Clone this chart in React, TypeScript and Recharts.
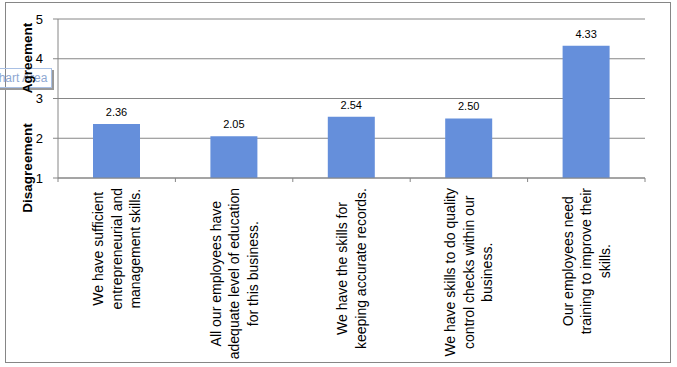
import { BarChart, Bar, XAxis, YAxis, CartesianGrid, LabelList } from "recharts";

// statements shown under each bar (line breaks as in the original)
const statements = [
  "We have sufficient\nentrepreneurial and\nmanagement skills.",
  "All our employees have\nadequate level of education\nfor this business.",
  "We have the skills for\nkeeping accurate records.",
  "We have skills to do quality\ncontrol checks within our\nbusiness.",
  "Our employees need\ntraining to improve their\nskills.",
];
const meanScores = [2.36, 2.05, 2.54, 2.5, 4.33];
const scaleTicks = [1, 2, 3, 4, 5];

const data = statements.map((s, i) => ({ statement: s, score: meanScores[i] }));

const GRID = "#868686";
const BAR = "#658fdb";
const LABEL_FONT = "14px 'Liberation Sans', Arial, sans-serif";
const LABEL_GAP = 10;

let ctx: CanvasRenderingContext2D | null = null;
function textWidth(t: string) {
  if (!ctx) ctx = document.createElement("canvas").getContext("2d");
  if (!ctx) return t.length * 7;
  ctx.font = LABEL_FONT;
  return ctx.measureText(t).width;
}

// label block + Excel-style tick marks between categories
function StatementTick({ x, y, payload, index }: any) {
  const lines = String(payload.value).split("\n");
  const longest = Math.max(...lines.map(textWidth));
  const lh = 18.5;
  const half = payload.offset ?? 0;
  const axisY = y - LABEL_GAP;
  return (
    <g>
      <line x1={x + half} x2={x + half} y1={axisY} y2={axisY + 4} stroke={GRID} />
      {index === 0 && <line x1={x - half} x2={x - half} y1={axisY} y2={axisY + 4} stroke={GRID} />}
      <g transform={`translate(${x},${y}) rotate(-90)`}>
        {lines.map((l, i) => (
          <text
            key={i}
            x={-longest / 2}
            y={(i - (lines.length - 1) / 2) * lh}
            textAnchor="middle"
            dominantBaseline="central"
            style={{ font: LABEL_FONT }}
            fill="#000"
          >
            {l}
          </text>
        ))}
      </g>
    </g>
  );
}

export default function App() {
  return (
    <div style={{ position: "relative", width: 677, height: 367, background: "#fff", overflow: "hidden" }}>
      <style>{"body{margin:0}"}</style>
      <div
        style={{
          position: "absolute",
          left: 5,
          top: 2,
          width: 666,
          height: 361,
          border: `1px solid ${GRID}`,
          boxSizing: "border-box",
        }}
      />
      <div style={{ position: "absolute", left: 0, top: 0 }}>
        <BarChart width={677} height={367} data={data} margin={{ top: 19, right: 32, bottom: 0, left: 28 }}>
          <CartesianGrid vertical={false} stroke={GRID} />
          <XAxis
            dataKey="statement"
            height={189}
            stroke={GRID}
            tickLine={false}
            tickSize={0}
            tickMargin={LABEL_GAP}
            interval={0}
            tick={<StatementTick />}
          />
          <YAxis
            domain={[1, 5]}
            ticks={scaleTicks}
            width={30}
            stroke={GRID}
            tickSize={5}
            tickMargin={10}
            tick={{ fill: "#000", fontSize: 13, fontFamily: "'Liberation Sans', Arial, sans-serif" }}
          />
          <Bar dataKey="score" fill={BAR} barSize={47} isAnimationActive={false}>
            <LabelList
              dataKey="score"
              position="top"
              offset={8}
              formatter={(v: any) => Number(v).toFixed(2)}
              style={{ fill: "#000", fontSize: 11, fontFamily: "'Liberation Sans', Arial, sans-serif" }}
            />
          </Bar>
        </BarChart>
      </div>
      <div
        style={{
          position: "absolute",
          left: -14,
          top: 68,
          width: 66,
          height: 20,
          border: "1px solid #a9c0e4",
          boxShadow: "2px 2px 0 #9a9a9a",
          boxSizing: "border-box",
          font: "12px 'Liberation Sans', Arial, sans-serif",
          color: "#8ea8d2",
          lineHeight: "18px",
          paddingLeft: 3,
          whiteSpace: "nowrap",
        }}
      >
        Chart Area
      </div>
      {[
        { text: "Agreement", cy: 58 },
        { text: "Disagreement", cy: 168 },
      ].map((t) => (
        <div
          key={t.text}
          style={{
            position: "absolute",
            left: 27,
            top: t.cy,
            transform: "translate(-50%,-50%) rotate(-90deg)",
            font: "bold 13.5px 'Liberation Sans', Arial, sans-serif",
            color: "#000",
            whiteSpace: "nowrap",
          }}
        >
          {t.text}
        </div>
      ))}
    </div>
  );
}
